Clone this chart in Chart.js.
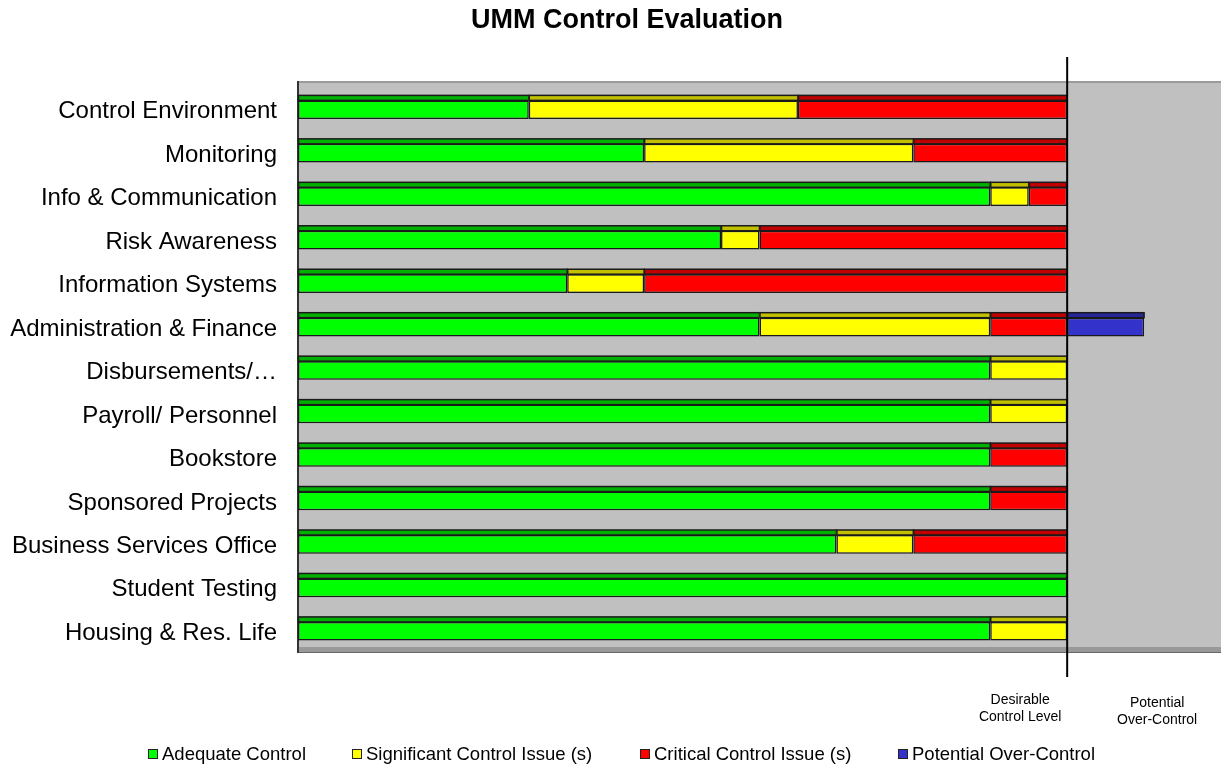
<!DOCTYPE html>
<html>
<head>
<meta charset="utf-8">
<script src="https://cdn.jsdelivr.net/npm/chart.js@4/dist/chart.umd.min.js"></script>
<style>
html,body{margin:0;padding:0;background:#fff;}
#wrap{width:1221px;height:767px;position:relative;}
</style>
</head>
<body>
<div id="wrap"><canvas id="c" width="1221" height="767"></canvas></div>
<script>
const categories = ["Control Environment","Monitoring","Info & Communication","Risk Awareness","Information Systems","Administration & Finance","Disbursements/\u2026","Payroll/ Personnel","Bookstore","Sponsored Projects","Business Services Office","Student Testing","Housing & Res. Life"];
const seriesNames = ["Adequate Control","Significant Control Issue (s)","Critical Control Issue (s)","Potential Over-Control"];
const adequate    = [30,45,90,55,35,60,90,90,90,90,70,100,90];
const significant = [35,35, 5, 5,10,30,10,10, 0, 0,10,  0,10];
const critical    = [35,20, 5,40,55,10, 0, 0,10,10,20,  0, 0];
const overControl = [ 0, 0, 0, 0, 0,10, 0, 0, 0, 0, 0,  0, 0];
const desirableLevel = 100;
const axisMax = 120;
const titleText = "UMM Control Evaluation";
const noteDesirable = ["Desirable","Control Level"];
const noteOver = ["Potential","Over-Control"];

const mainColors = ["#00ff00","#ffff00","#ff0000","#3333cc"];
const topColors  = ["#00b000","#c0c000","#c00000","#262699"];
const FONT = "'Liberation Sans', Arial, sans-serif";

const backdrop = {
  id:'backdrop',
  beforeDatasetsDraw(chart){
    const {ctx, chartArea:a} = chart;
    ctx.save();
    ctx.fillStyle = '#c0c0c0';
    ctx.fillRect(a.left, a.top-6, a.right-a.left, a.bottom-a.top);
    ctx.fillStyle = '#999999';
    ctx.fillRect(a.left, a.bottom-6, a.right-a.left, 6);
    ctx.fillStyle = '#9a9a9a';
    ctx.fillRect(a.left, a.top-7, a.right-a.left, 2);
    ctx.fillStyle = '#666666';
    ctx.fillRect(a.left, a.bottom-1, a.right-a.left, 1);
    ctx.fillStyle = '#333333';
    ctx.fillRect(a.left-1, a.top-7, 2, a.bottom-a.top+7);
    ctx.restore();
  }
};

const tops = {
  id:'tops',
  afterDatasetsDraw(chart){
    const ctx = chart.ctx;
    ctx.save();
    chart.data.datasets.forEach((ds, di) => {
      const meta = chart.getDatasetMeta(di);
      meta.data.forEach(el => {
        const p = el.getProps(['x','y','base','height'], true);
        const l = Math.min(p.x, p.base), r = Math.max(p.x, p.base);
        if (r - l < 0.5) return;
        const t = p.y - p.height/2;
        ctx.fillStyle = topColors[di];
        ctx.fillRect(l, t-5, r-l, 5);
        ctx.strokeStyle = '#1a1a1a';
        ctx.lineWidth = 1.5;
        ctx.strokeRect(l+0.5, t-5, r-l-0.5, 5);
      });
    });
    ctx.restore();
  }
};

const overlay = {
  id:'overlay',
  afterDraw(chart){
    const {ctx} = chart;
    const xs = chart.scales.x;
    const xl = xs.getPixelForValue(desirableLevel);
    ctx.save();
    ctx.strokeStyle = '#000';
    ctx.lineWidth = 2;
    ctx.beginPath();
    ctx.moveTo(xl, 57);
    ctx.lineTo(xl, 677);
    ctx.stroke();
    // title
    ctx.fillStyle = '#000';
    ctx.textAlign = 'center';
    ctx.textBaseline = 'middle';
    ctx.font = "bold 27px " + FONT;
    ctx.fillText(titleText, 627, 21);
    // notes
    ctx.font = "14px " + FONT;
    ctx.fillText(noteDesirable[0], xl-47, 700);
    ctx.fillText(noteDesirable[1], xl-47, 717);
    ctx.fillText(noteOver[0], xl+90, 703);
    ctx.fillText(noteOver[1], xl+90, 720);
    // legend
    const lx = [148, 352, 640, 898];
    const ly = 754;
    ctx.font = "18.5px " + FONT;
    ctx.textAlign = 'left';
    chart.data.datasets.forEach((ds, i) => {
      ctx.fillStyle = ds.backgroundColor;
      ctx.fillRect(lx[i], ly-5, 10, 10);
      ctx.strokeStyle = '#222';
      ctx.lineWidth = 1;
      ctx.strokeRect(lx[i]+0.5, ly-5+0.5, 9, 9);
      ctx.fillStyle = '#000';
      ctx.fillText(ds.label, lx[i]+14, ly+1);
    });
    ctx.restore();
  }
};

const seriesData = [adequate, significant, critical, overControl];
new Chart(document.getElementById('c'), {
  type:'bar',
  data:{
    labels: categories,
    datasets: seriesData.map((d,i)=>({
      label: seriesNames[i],
      data: d,
      backgroundColor: mainColors[i],
      borderColor: '#1a1a1a',
      borderWidth: 1.5,
      borderSkipped: false,
      categoryPercentage: 1,
      barPercentage: 0.43
    }))
  },
  options:{
    indexAxis:'y',
    responsive:false,
    animation:false,
    layout:{padding:{top:88, bottom:114, left:0, right:0}},
    plugins:{legend:{display:false}, title:{display:false}, tooltip:{enabled:false}},
    scales:{
      x:{stacked:true, min:0, max:axisMax, display:false},
      y:{stacked:true,
         grid:{display:false, drawTicks:false},
         border:{display:false},
         afterFit(s){ s.width = 298; },
         ticks:{autoSkip:false, padding:21, labelOffset:2, color:'#000', font:{family:FONT, size:24}}
      }
    }
  },
  plugins:[backdrop, tops, overlay]
});
</script>
</body>
</html>
